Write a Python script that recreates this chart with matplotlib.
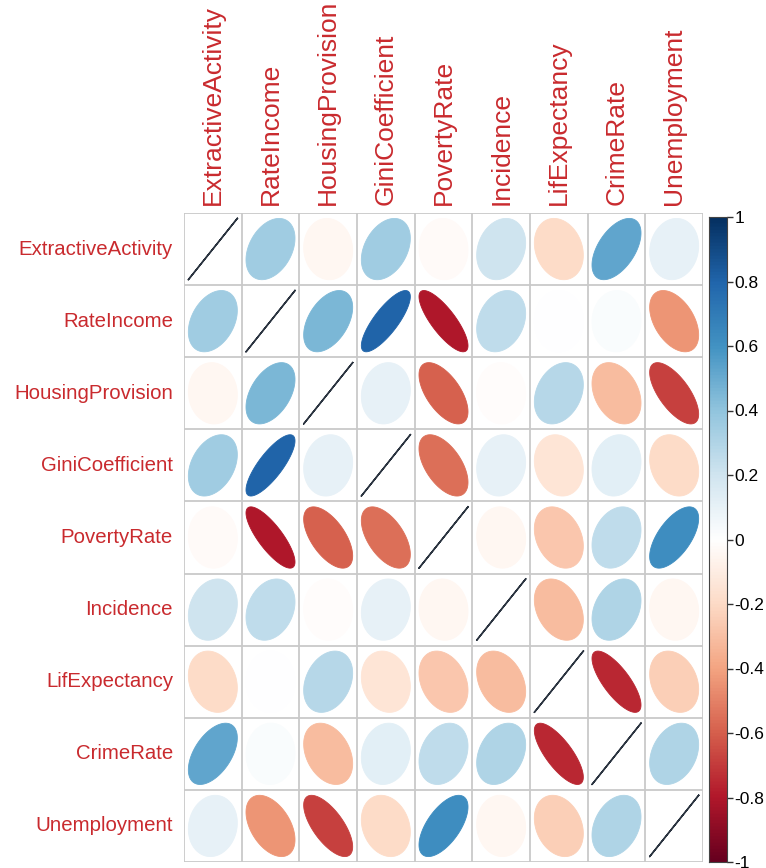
import numpy as np
import matplotlib.pyplot as plt
from matplotlib.colors import LinearSegmentedColormap
from matplotlib.patches import Polygon

plt.rcParams['font.family'] = ['Liberation Sans', 'DejaVu Sans']

variables = ["ExtractiveActivity", "RateIncome", "HousingProvision", "GiniCoefficient",
             "PovertyRate", "Incidence", "LifExpectancy", "CrimeRate", "Unemployment"]

# correlation matrix, rows/cols in the order of `variables`
corr = np.array([
    [1.00, 0.35, -0.05, 0.35, -0.03, 0.20, -0.20, 0.52, 0.10],
    [0.35, 1.00, 0.45, 0.80, -0.80, 0.25, 0.00, 0.02, -0.45],
    [-0.05, 0.45, 1.00, 0.10, -0.60, -0.02, 0.28, -0.32, -0.68],
    [0.35, 0.80, 0.10, 1.00, -0.55, 0.10, -0.15, 0.12, -0.20],
    [-0.03, -0.80, -0.60, -0.55, 1.00, -0.05, -0.28, 0.25, 0.62],
    [0.20, 0.25, -0.02, 0.10, -0.05, 1.00, -0.32, 0.30, -0.05],
    [-0.20, 0.00, 0.28, -0.15, -0.28, -0.32, 1.00, -0.76, -0.25],
    [0.52, 0.02, -0.32, 0.12, 0.25, 0.30, -0.76, 1.00, 0.30],
    [0.10, -0.45, -0.68, -0.20, 0.62, -0.05, -0.25, 0.30, 1.00],
])

palette = ["#67001F", "#B2182B", "#D6604D", "#F4A582", "#FDDBC7", "#FFFFFF",
           "#D1E5F0", "#92C5DE", "#4393C3", "#2166AC", "#053061"]
cmap = LinearSegmentedColormap.from_list("corr_rdbu", palette, N=200)

W, H = 766, 868
fig = plt.figure(figsize=(W / 100, H / 100), dpi=100)

# grid area in pixels
left, right, top, bottom = 184, 703, 213, 862
n = len(variables)
colw = (right - left) / n
rowh = (bottom - top) / n

ax = fig.add_axes([left / W, 1 - bottom / H, (right - left) / W, (bottom - top) / H])
ax.set_xlim(0, n)
ax.set_ylim(0, n)
ax.set_axis_off()

t = np.linspace(0, 2 * np.pi, 99)
for i in range(n):
    for j in range(n):
        r = corr[i, j]
        d = np.arccos(np.clip(r, -1, 1))
        ex = 0.85 * np.cos(t + d / 2) / 2 + j + 0.5
        ey = 0.85 * np.cos(t - d / 2) / 2 + n - i - 0.5
        c = cmap((r + 1) / 2)
        if i == j:
            ax.plot(ex, ey, color="#2b3440", lw=1.1)
        else:
            ax.add_patch(Polygon(np.column_stack([ex, ey]), closed=True,
                                 facecolor=c, edgecolor=c, lw=0.6))

for k in range(n + 1):
    ax.axhline(k, color="#c9c9c9", lw=1.3, zorder=0)
    ax.axvline(k, color="#c9c9c9", lw=1.3, zorder=0)

label_col = "#c92a2e"
for i, name in enumerate(variables):
    fig.text(173 / W, 1 - (top + (i + 0.5) * rowh) / H, name, ha="right", va="center",
             fontsize=14.7, color=label_col)
    fig.text((left + i * colw + colw / 2) / W, 1 - 205 / H, name, rotation=90,
             ha="center", va="bottom", fontsize=19, color=label_col)

# colour legend
cax = fig.add_axes([709 / W, 1 - 862 / H, 18 / W, (862 - 217) / H])
grad = np.linspace(-1, 1, 400).reshape(-1, 1)
cax.imshow(grad, cmap=cmap, vmin=-1, vmax=1, origin="lower", aspect="auto",
           extent=[0, 1, -1, 1])
cax.set_xticks([])
cax.yaxis.tick_right()
ticks = np.round(np.arange(-1, 1.01, 0.2), 1)
cax.set_yticks(ticks)
cax.set_yticklabels([("%g" % v) if v != 0 else "0" for v in ticks])
cax.tick_params(axis="y", length=4, width=1, color="#333333", labelsize=12.5, pad=1.5)
for s in cax.spines.values():
    s.set_color("#444444")
    s.set_linewidth(0.8)

fig.savefig("out.png", dpi=100)
